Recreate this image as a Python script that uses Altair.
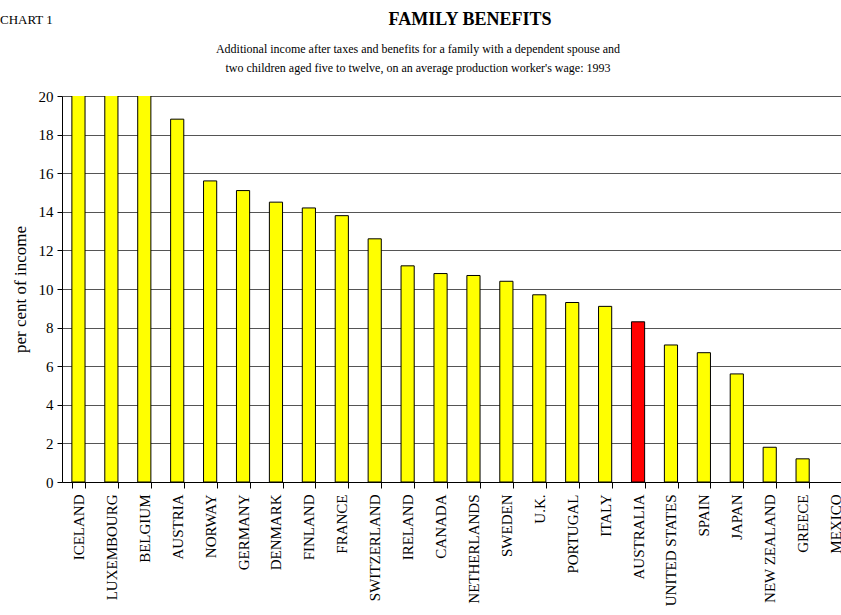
import altair as alt
import pandas as pd

countries = ["ICELAND", "LUXEMBOURG", "BELGIUM", "AUSTRIA", "NORWAY", "GERMANY",
             "DENMARK", "FINLAND", "FRANCE", "SWITZERLAND", "IRELAND", "CANADA",
             "NETHERLANDS", "SWEDEN", "U.K.", "PORTUGAL", "ITALY", "AUSTRALIA",
             "UNITED STATES", "SPAIN", "JAPAN", "NEW ZEALAND", "GREECE", "MEXICO"]
values = [24.0, 22.5, 21.5, 18.8, 15.6, 15.1,
          14.5, 14.2, 13.8, 12.6, 11.2, 10.8,
          10.7, 10.4, 9.7, 9.3, 9.1, 8.3,
          7.1, 6.7, 5.6, 1.8, 1.2, 0.0]
y_ticks = [0, 2, 4, 6, 8, 10, 12, 14, 16, 18, 20]

chart_label = "CHART 1"
title_text = "FAMILY BENEFITS"
subtitle_lines = [
    "Additional income after taxes and benefits for a family with a dependent spouse and",
    "two children aged five to twelve, on an average production worker's wage: 1993",
]
y_title = "per cent of income"

FONT = "Liberation Serif"

df = pd.DataFrame({"country": countries, "value": values})

bars = alt.Chart(df).mark_bar(stroke="black", strokeWidth=1, clip=True).encode(
    x=alt.X("country:N", sort=countries,
            scale=alt.Scale(range=[0, 790], paddingInner=0.6, paddingOuter=0.3),
            axis=alt.Axis(title=None, tickBand="extent", tickSize=6, tickColor="black",
                          domainColor="black", labelAngle=270, labelAlign="right",
                          labelBaseline="middle", labelPadding=6, labelFontSize=15,
                          labelFont=FONT, labelColor="black", labelOverlap=False,
                          grid=False)),
    y=alt.Y("value:Q",
            scale=alt.Scale(domain=[0, 20], nice=False, clamp=False),
            axis=alt.Axis(values=y_ticks, title=y_title, titleFont=FONT, titleFontSize=17,
                          titleFontWeight="normal", titleColor="black", titlePadding=9,
                          labelFont=FONT, labelFontSize=15, labelColor="black",
                          labelPadding=4, tickSize=5, tickColor="black",
                          domainColor="black", grid=True, gridColor="#555555",
                          gridWidth=1)),
    color=alt.condition(alt.datum.country == "AUSTRALIA", alt.value("#FF0000"),
                        alt.value("#FFFF00")),
    strokeOpacity=alt.condition(alt.datum.value > 0, alt.value(1), alt.value(0)),
)

def text_layer(txt, x, y, size, weight="normal", align="center"):
    return alt.Chart(pd.DataFrame({"t": [txt]})).mark_text(
        font=FONT, fontSize=size, fontWeight=weight, align=align,
        baseline="middle", color="black"
    ).encode(x=alt.value(x), y=alt.value(y), text="t:N")

texts = [
    text_layer(chart_label, -62, -76, 13, align="left"),
    text_layer(title_text, 408, -76, 18, weight="bold"),
    text_layer(subtitle_lines[0], 356, -47, 12),
    text_layer(subtitle_lines[1], 356, -28, 12),
]

chart = alt.layer(bars, *texts).properties(
    width=779, height=386,
    autosize=alt.AutoSizeParams(type="none"),
    padding={"left": 62, "top": 96, "right": 0, "bottom": 133},
    background="white",
).configure_view(stroke=None)

chart.save("out.html", embed_options={"renderer": "svg", "actions": False})
